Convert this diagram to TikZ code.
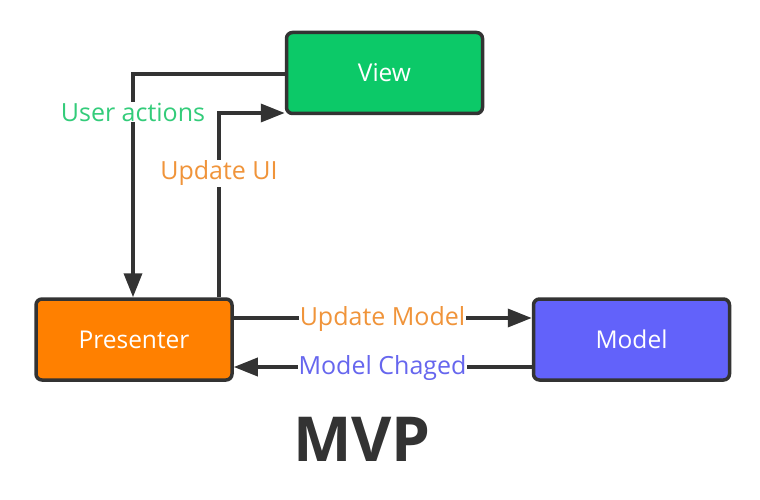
\documentclass[tikz,border=0pt]{standalone}
\usepackage{fontspec}
\setmainfont{Open Sans}
\usetikzlibrary{arrows.meta}
\definecolor{viewgreen}{HTML}{0CC968}
\definecolor{presorange}{HTML}{FF8000}
\definecolor{modelblue}{HTML}{6262FA}
\definecolor{edgedark}{HTML}{333333}
\definecolor{lblgreen}{HTML}{33CC7A}
\definecolor{lblorange}{HTML}{F0943A}
\definecolor{lblblue}{HTML}{6666EE}
\tikzset{
  boxnode/.style={draw=edgedark, line width=3.5pt, rounded corners=6pt, minimum width=196pt, minimum height=81pt, text=white, font=\fontsize{24.5}{28}\selectfont, inner sep=0pt},
  conn/.style={draw=edgedark, line width=3.5pt, -{Triangle[length=24pt,width=18pt]}},
  lbl/.style={fill=white, inner sep=1pt, font=\fontsize{25}{28}\selectfont}
}
\begin{document}
\begin{tikzpicture}[x=1pt,y=-1pt]
\useasboundingbox (0,0) rectangle (760,500);
\node[boxnode, fill=viewgreen] (view) at (384.5,73) {View};
\node[boxnode, fill=presorange] (pres) at (134,339.5) {Presenter};
\node[boxnode, fill=modelblue] (model) at (631.5,339.5) {Model};
% User actions
\coordinate (ua1) at (133,74);
\draw[conn] (view.west |- ua1) -- (ua1) -- (pres.north -| ua1);
\node[lbl, text=lblgreen] (ualbl) at (133,112) {User actions};
% Update UI
\coordinate (uu1) at (219,113);
\draw[conn] (pres.north -| uu1) -- (uu1) -- (view.west |- uu1);
\node[lbl, text=lblorange] (uulbl) at (219,173) {Update UI};
% Update Model
\coordinate (um) at (0,318);
\draw[conn] (pres.east |- um) -- (model.west |- um);
\node[lbl, text=lblorange] (umlbl) at (382.5,319) {Update Model};
% Model Chaged
\coordinate (mc) at (0,367);
\draw[conn] (model.west |- mc) -- (pres.east |- mc);
\node[lbl, text=lblblue] (mclbl) at (382.5,368) {Model Chaged};
% Title
\node[text=edgedark, font=\bfseries\fontsize{62}{70}\selectfont] (title) at (362,439) {MVP};
\end{tikzpicture}
\end{document}
